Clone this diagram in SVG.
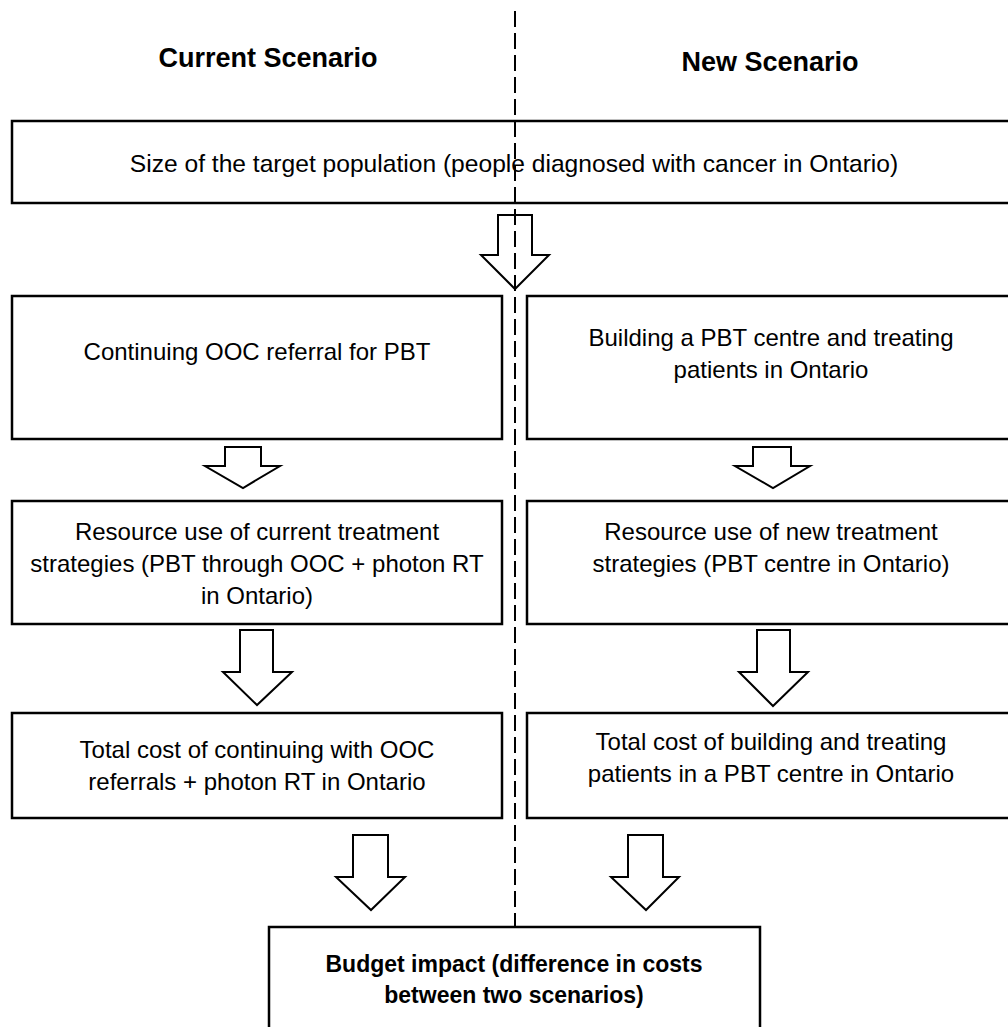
<svg xmlns="http://www.w3.org/2000/svg" width="1008" height="1027" viewBox="0 0 1008 1027">
<style>
.box{fill:#fff;stroke:#000;stroke-width:2.5}
.arr{fill:#fff;stroke:#000;stroke-width:2;stroke-linejoin:miter}
.t{font-family:"Liberation Sans",Arial,sans-serif;font-size:24px;fill:#000;text-anchor:middle}
.b{font-weight:bold;font-size:23px}
.h{font-family:"Liberation Sans",Arial,sans-serif;font-size:27px;font-weight:bold;fill:#000;text-anchor:middle}
.div{stroke:#000;stroke-width:2;stroke-dasharray:16 6;fill:none}
</style>
<rect width="1008" height="1027" fill="#fff"/>
<g id="headers">
<text class="h" x="268" y="67">Current Scenario</text>
<text class="h" x="770" y="71">New Scenario</text>
</g>
<g id="node-population">
<rect class="box" x="12" y="121" width="1010" height="82"/>
<text class="t" x="514" y="172" style="font-size:24.6px">Size of the target population (people diagnosed with cancer in Ontario)</text>
</g>
<g id="node-current-1">
<rect class="box" x="12" y="296" width="490" height="143"/>
<text class="t" x="257" y="360">Continuing OOC referral for PBT</text>
</g>
<g id="node-new-1">
<rect class="box" x="527" y="296" width="495" height="143"/>
<text class="t" x="771" y="346">Building a PBT centre and treating</text>
<text class="t" x="771" y="378">patients in Ontario</text>
</g>
<g id="node-current-2">
<rect class="box" x="12" y="501" width="490" height="123"/>
<text class="t" x="257" y="540">Resource use of current treatment</text>
<text class="t" x="257" y="572">strategies (PBT through OOC + photon RT</text>
<text class="t" x="257" y="604">in Ontario)</text>
</g>
<g id="node-new-2">
<rect class="box" x="527" y="501" width="495" height="123"/>
<text class="t" x="771" y="540">Resource use of new treatment</text>
<text class="t" x="771" y="572">strategies (PBT centre in Ontario)</text>
</g>
<g id="node-current-3">
<rect class="box" x="12" y="713" width="490" height="105"/>
<text class="t" x="257" y="758">Total cost of continuing with OOC</text>
<text class="t" x="257" y="790">referrals + photon RT in Ontario</text>
</g>
<g id="node-new-3">
<rect class="box" x="527" y="713" width="495" height="105"/>
<text class="t" x="771" y="750">Total cost of building and treating</text>
<text class="t" x="771" y="782">patients in a PBT centre in Ontario</text>
</g>
<g id="node-budget">
<rect class="box" x="269" y="927" width="491" height="120"/>
<text class="t b" x="514" y="972">Budget impact (difference in costs</text>
<text class="t b" x="514" y="1003">between two scenarios)</text>
</g>
<g id="connectors">
<polygon class="arr" points="498,215 532,215 532,255 549,255 515,289 481,255 498,255"/>
<polygon class="arr" points="225,447 261,447 261,466 280,466 243,488 205,466 225,466"/>
<polygon class="arr" points="753,447 791,447 791,466 810,466 773,488 735,466 753,466"/>
<polygon class="arr" points="240,630 273,630 273,672 292,672 257,705 223,672 240,672"/>
<polygon class="arr" points="757,630 790,630 790,672 808,672 773,706 739,672 757,672"/>
<polygon class="arr" points="353,835 388,835 388,877 405,877 371,910 336,877 353,877"/>
<polygon class="arr" points="628,835 663,835 663,877 679,877 646,910 611,877 628,877"/>
</g>
<g id="divider">
<line class="div" x1="515" y1="11" x2="515" y2="927"/>
</g>
</svg>
